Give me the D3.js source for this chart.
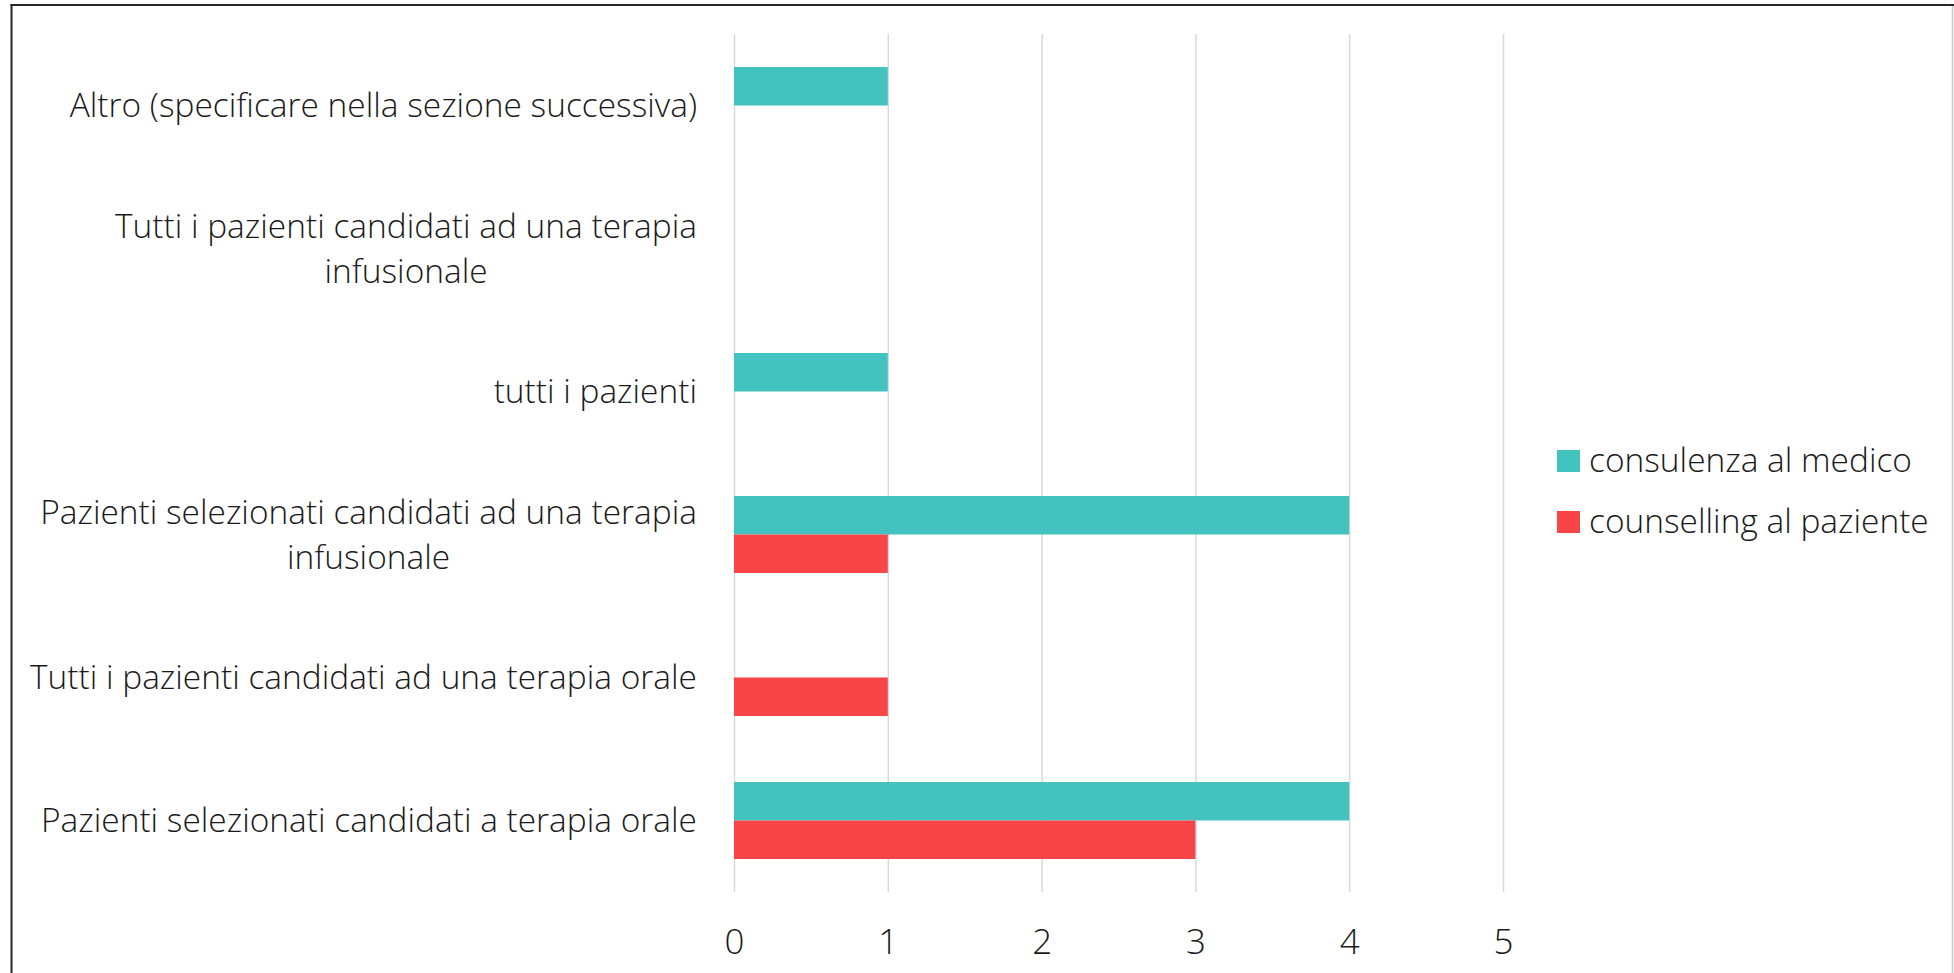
<!DOCTYPE html>
<html>
<head>
<meta charset="utf-8">
<script src="https://cdn.jsdelivr.net/npm/d3@7"></script>
<style>
  html, body { margin: 0; padding: 0; background: #ffffff; overflow: hidden; }
  svg { display: block; }
  text { font-family: "Open Sans", "Lato", "DejaVu Sans", sans-serif; font-weight: 300; fill: #1a1a1a; }
</style>
</head>
<body>
<svg id="chart" width="1954" height="973"></svg>
<script>
// ---- data ----
const categories = [
  "Altro (specificare nella sezione successiva)",
  "Tutti i pazienti candidati ad una terapia\ninfusionale",
  "tutti i pazienti",
  "Pazienti selezionati candidati ad una terapia\ninfusionale",
  "Tutti i pazienti candidati ad una terapia orale",
  "Pazienti selezionati candidati a terapia orale"
];
const seriesNames = ["consulenza al medico", "counselling al paziente"];
const consulenzaValues = [1, 0, 1, 4, 0, 4];
const counsellingValues = [0, 0, 0, 1, 1, 3];
const xTicks = [0, 1, 2, 3, 4, 5];
const seriesColors = ["#43C3BF", "#F84648"];

// ---- layout ----
const W = 1954, H = 973;
const plot = { left: 734, right: 1503, top: 34, bottom: 892 };
const fontSize = 33.5;
const svg = d3.select("#chart");

// frame
svg.append("line").attr("x1", 11.5).attr("x2", 11.5).attr("y1", 4).attr("y2", H)
  .attr("stroke", "#262626").attr("stroke-width", 2);
svg.append("line").attr("x1", 10.5).attr("x2", W).attr("y1", 5).attr("y2", 5)
  .attr("stroke", "#262626").attr("stroke-width", 2);
svg.append("line").attr("x1", 1952.5).attr("x2", 1952.5).attr("y1", 6).attr("y2", H)
  .attr("stroke", "#c8c8c8").attr("stroke-width", 1.5);

const x = d3.scaleLinear().domain([0, 5]).range([plot.left, plot.right]);
const y = d3.scaleBand().domain(categories).range([plot.top, plot.bottom])
  .paddingInner(66 / 143).paddingOuter(33 / 143);
const ySub = d3.scaleBand().domain(seriesNames).range([0, y.bandwidth()]);
const yCenter = d => y(d) + y.bandwidth() / 2;

// text compression to emulate narrow Calibri Light metrics
const probe = svg.append("text").attr("font-size", fontSize).text("Pazienti selezionati candidati a terapia orale");
const k = 656 / probe.node().getComputedTextLength();
probe.remove();
function condense(sel) {
  sel.each(function () {
    const len = this.getComputedTextLength();
    if (len > 0) d3.select(this).attr("textLength", len * k).attr("lengthAdjust", "spacingAndGlyphs");
  });
}

// gridlines + tick labels
const xAxis = d3.axisBottom(x).tickValues(xTicks).tickFormat(d3.format("d"))
  .tickSize(-(plot.bottom - plot.top)).tickSizeOuter(0).tickPadding(35);
const gx = svg.append("g").attr("transform", `translate(0,${plot.bottom})`).call(xAxis);
gx.select(".domain").remove();
gx.selectAll(".tick line").attr("stroke", "#d9d9d9").attr("stroke-width", 1.5);
gx.selectAll(".tick text")
  .attr("font-size", fontSize + 1.5).attr("fill", "#1a1a1a")
  .attr("font-family", null)
  .attr("dy", null).attr("y", 954 - plot.bottom)
  .call(condense);

// bars
const rows = categories.map((c, i) => ({ cat: c, vals: [consulenzaValues[i], counsellingValues[i]] }));
const groups = svg.append("g").selectAll("g").data(rows).join("g")
  .attr("transform", d => `translate(0,${y(d.cat)})`);
groups.selectAll("rect")
  .data(d => d.vals.map((v, j) => ({ v, s: seriesNames[j], j })))
  .join("rect")
  .attr("x", x(0))
  .attr("y", d => ySub(d.s))
  .attr("width", d => x(d.v) - x(0))
  .attr("height", ySub.bandwidth())
  .attr("fill", d => seriesColors[d.j]);

// category labels
const labelRight = 697;
const lineH = 45;
const capOffset = 11.8;
categories.forEach(c => {
  const lines = c.split("\n");
  const cy = yCenter(c);
  const g = svg.append("g");
  const texts = lines.map((ln, i) => g.append("text").attr("font-size", fontSize)
      .attr("y", cy + (i - (lines.length - 1) / 2) * lineH + capOffset)
      .text(ln));
  texts.forEach(t => condense(t));
  const widths = texts.map(t => +t.attr("textLength") || t.node().getComputedTextLength());
  const maxW = d3.max(widths);
  const centerX = labelRight - maxW / 2;
  texts.forEach(t => t.attr("x", centerX).attr("text-anchor", "middle"));
});

// legend
const legend = svg.append("g");
const legendY = [450, 511];
seriesNames.forEach((s, i) => {
  legend.append("rect").attr("x", 1557).attr("y", legendY[i]).attr("width", 23).attr("height", 22)
    .attr("fill", seriesColors[i]);
  legend.append("text").attr("x", 1589).attr("y", legendY[i] + 21.7)
    .attr("font-size", fontSize).text(s).call(condense);
});
</script>
</body>
</html>
